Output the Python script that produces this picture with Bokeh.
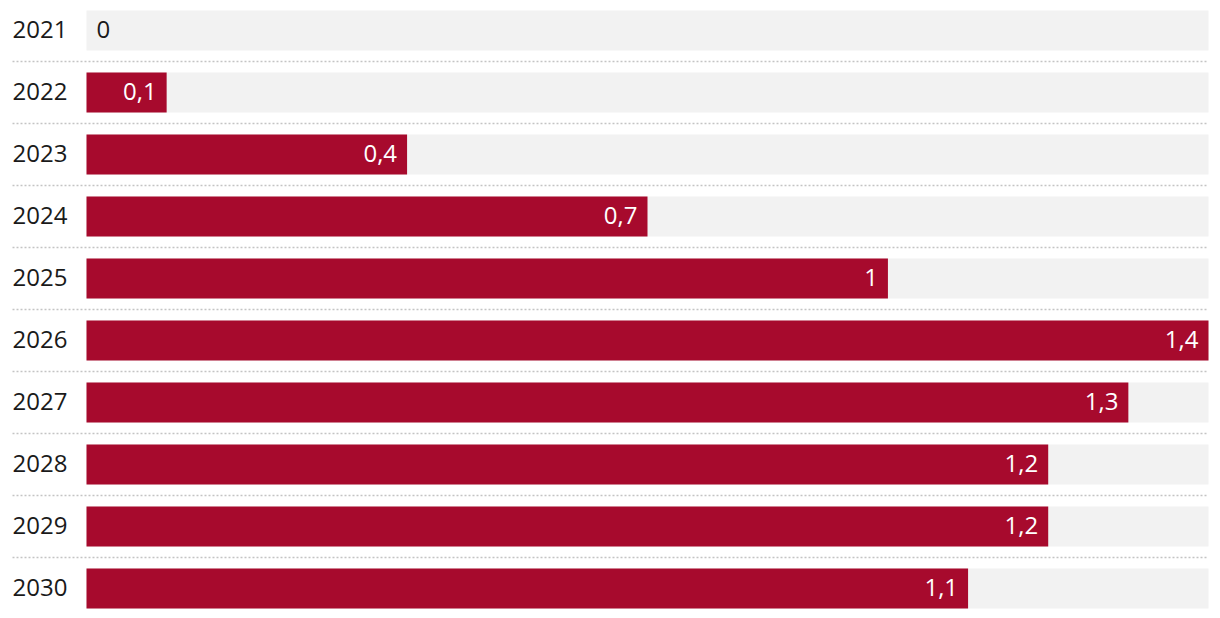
from bokeh.plotting import figure
from bokeh.models import ColumnDataSource, Range1d
from bokeh.core.properties import value
from bokeh.embed import file_html
from bokeh.resources import INLINE

years = ["2021", "2022", "2023", "2024", "2025", "2026", "2027", "2028", "2029", "2030"]
values = [0, 0.1, 0.4, 0.7, 1.0, 1.4, 1.3, 1.2, 1.2, 1.1]
labels = ["0", "0,1", "0,4", "0,7", "1", "1,4", "1,3", "1,2", "1,2", "1,1"]

W, H = 1212, 610
bar_left_px, bar_right_px = 86, 1208
pitch_px, first_center_px, bar_h_px = 62, 30, 40
label_left_px = 12
vmax = max(values)
scale = (bar_right_px - bar_left_px) / vmax
x0 = -bar_left_px / scale
x1 = x0 + W / scale
y_top = -first_center_px / pitch_px
y_bot = y_top + H / pitch_px

p = figure(width=W, height=H, output_backend="svg", toolbar_location=None,
           x_range=Range1d(x0, x1), y_range=Range1d(y_bot, y_top),
           min_border=0, outline_line_color=None)
p.axis.visible = False
p.grid.visible = False
p.background_fill_color = "white"
p.border_fill_color = "white"

idx = list(range(len(years)))
src = ColumnDataSource(dict(y=idx, v=values, lab=labels, yr=years,
                            full=[vmax] * len(years)))
bh = bar_h_px / pitch_px

p.hbar(y="y", left=0, right="full", height=bh, source=src, color="#f2f2f2", line_color=None)
p.hbar(y="y", left=0, right="v", height=bh, source=src, color="#a70a2d", line_color=None)

# dotted separators
sep_y = [i + 0.5 for i in idx[:-1]]
sep_x0 = x0 + label_left_px / scale
p.segment(x0=[sep_x0] * len(sep_y), x1=[vmax] * len(sep_y), y0=sep_y, y1=sep_y,
          line_color="#c4c4c4", line_width=1.3, line_dash="2 2")

font = value("Open Sans")
# year labels
p.text(x=[sep_x0] * len(years), y=idx, text=years, text_font=font,
       text_font_size="24px", text_color="#1a1a1a", text_align="left",
       text_baseline="middle", y_offset=-1)

# value labels
pos_i = [i for i in idx if values[i] > 0]
zero_i = [i for i in idx if values[i] == 0]
p.text(x=[values[i] for i in pos_i], y=pos_i, text=[labels[i] for i in pos_i],
       text_font=font, text_font_size="24px", text_color="white",
       text_align="right", text_baseline="middle", x_offset=-10, y_offset=-1)
p.text(x=[values[i] for i in zero_i], y=zero_i, text=[labels[i] for i in zero_i],
       text_font=font, text_font_size="24px", text_color="#1a1a1a",
       text_align="left", text_baseline="middle", x_offset=10, y_offset=-1)

open("out.html", "w").write(file_html(p, INLINE))
